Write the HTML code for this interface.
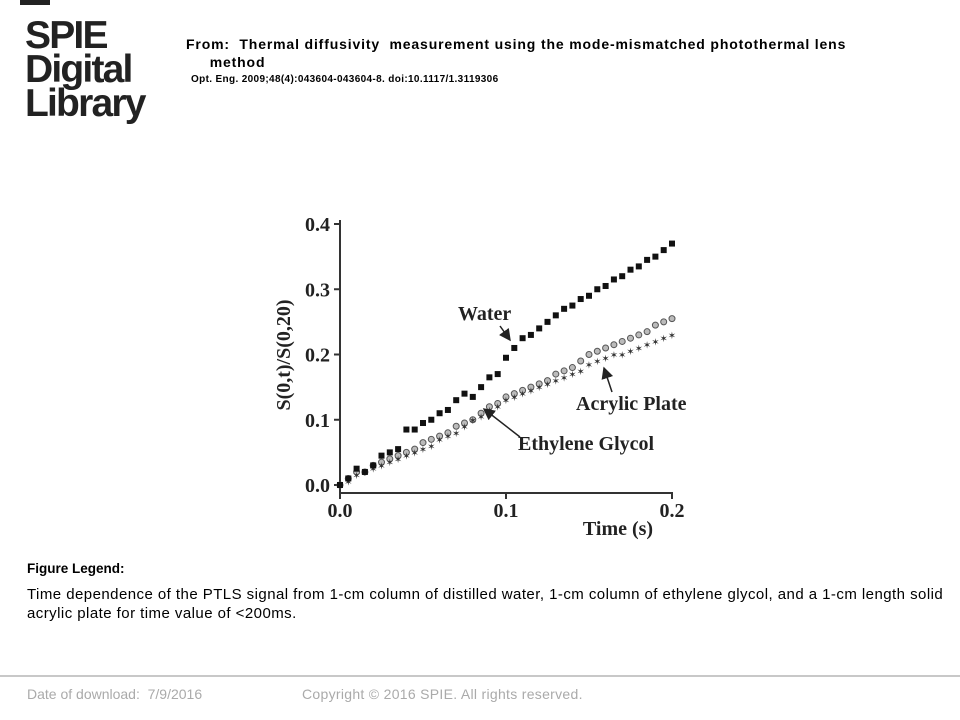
<!DOCTYPE html>
<html><head><meta charset="utf-8"><style>
body{margin:0;width:960px;height:720px;background:#fff;position:relative;overflow:hidden;font-family:"Liberation Sans",Arial,sans-serif}
.a{position:absolute;white-space:nowrap}
</style></head><body>
<div class="a" style="left:20px;top:0;width:30px;height:5px;background:#222"></div>
<div class="a" style="left:25px;top:19px;font-weight:bold;font-size:39px;line-height:34px;letter-spacing:-1.8px;color:#222">SPIE<br>Digital<br>Library</div>
<div class="a" style="left:186px;top:35px;font-weight:bold;font-size:14px;letter-spacing:0.85px;line-height:18px">From:&nbsp; Thermal diffusivity&nbsp; measurement using the mode-mismatched photothermal lens<br>&nbsp;&nbsp;&nbsp;&nbsp; method</div>
<div class="a" style="left:191px;top:74px;font-weight:bold;font-size:10px;letter-spacing:0.35px">Opt. Eng. 2009;48(4):043604-043604-8. doi:10.1117/1.3119306</div>

<svg class="a" style="left:0;top:0" width="960" height="560" id="chart"></svg>

<div class="a" style="left:27px;top:561px;font-weight:bold;font-size:13.5px">Figure Legend:</div>
<div class="a" style="left:27px;top:585px;font-size:15px;letter-spacing:0.45px;line-height:19px">Time dependence of the PTLS signal from 1-cm column of distilled water, 1-cm column of ethylene glycol, and a 1-cm length solid<br>acrylic plate for time value of &lt;200ms.</div>
<div class="a" style="left:0;top:675px;width:960px;height:2px;background:#c8c8c8"></div>
<div class="a" style="left:27px;top:686px;font-size:14px;color:#aaa">Date of download:&nbsp; 7/9/2016</div>
<div class="a" style="left:302px;top:686px;font-size:14px;letter-spacing:0.3px;color:#aaa">Copyright © 2016 SPIE. All rights reserved.</div>

<script>
const times=[0,0.005,0.01,0.015,0.02,0.025,0.03,0.035,0.04,0.045,0.05,0.055,0.06,0.065,0.07,0.075,0.08,0.085,0.09,0.095,0.1,0.105,0.11,0.115,0.12,0.125,0.13,0.135,0.14,0.145,0.15,0.155,0.16,0.165,0.17,0.175,0.18,0.185,0.19,0.195,0.2];
const water=[0,0.01,0.025,0.02,0.03,0.045,0.05,0.055,0.085,0.085,0.095,0.1,0.11,0.115,0.13,0.14,0.135,0.15,0.165,0.17,0.195,0.21,0.225,0.23,0.24,0.25,0.26,0.27,0.275,0.285,0.29,0.3,0.305,0.315,0.32,0.33,0.335,0.345,0.35,0.36,0.37];
const acrylic=[0,0.01,0.02,0.02,0.03,0.035,0.04,0.045,0.05,0.055,0.065,0.07,0.075,0.08,0.09,0.095,0.1,0.11,0.12,0.125,0.135,0.14,0.145,0.15,0.155,0.16,0.17,0.175,0.18,0.19,0.2,0.205,0.21,0.215,0.22,0.225,0.23,0.235,0.245,0.25,0.255];
const glycol=[0,0.005,0.015,0.02,0.025,0.03,0.035,0.04,0.045,0.05,0.055,0.06,0.07,0.075,0.08,0.09,0.1,0.105,0.115,0.12,0.13,0.135,0.14,0.145,0.15,0.155,0.16,0.165,0.17,0.175,0.185,0.19,0.195,0.2,0.2,0.205,0.21,0.215,0.22,0.225,0.23];
const xTicks=[0,0.1,0.2];
const xTickLabels=["0.0","0.1","0.2"];
const yTicks=[0,0.1,0.2,0.3,0.4];
const yTickLabels=["0.0","0.1","0.2","0.3","0.4"];

const X=v=>340+v*(332/0.2);
const Y=v=>485-v*(261/0.4);
const svg=document.getElementById('chart');
const NS='http://www.w3.org/2000/svg';
function mk(tag,attrs,txt){const e=document.createElementNS(NS,tag);for(const k in attrs)e.setAttribute(k,attrs[k]);if(txt!==undefined)e.textContent=txt;svg.appendChild(e);return e;}
const F='"Liberation Serif",serif';

let e=mk('line',{x1:340,y1:220,x2:340,y2:493,stroke:'#333','stroke-width':2});


e=mk('line',{x1:339,y1:493,x2:673,y2:493,stroke:'#333','stroke-width':2});



yTicks.forEach((t,i)=>{
  let l=mk('line',{x1:334,y1:Y(t),x2:340,y2:Y(t),stroke:'#333','stroke-width':2});
  
  
  let s=mk('text',{x:330,y:Y(t)+7,'text-anchor':'end','font-family':F,'font-weight':'bold','font-size':20,fill:'#222'},yTickLabels[i]);
  
  
});
xTicks.forEach((t,i)=>{
  let l=mk('line',{x1:X(t),y1:493,x2:X(t),y2:499,stroke:'#333','stroke-width':2});
  
  
  let s=mk('text',{x:X(t),y:517,'text-anchor':'middle','font-family':F,'font-weight':'bold','font-size':20,fill:'#222'},xTickLabels[i]);
  
  
});
e=mk('text',{x:618,y:535,'text-anchor':'middle','font-family':F,'font-weight':'bold','font-size':20,fill:'#222'},'Time (s)');


e=mk('text',{x:0,y:0,transform:'translate(290,355) rotate(-90)','text-anchor':'middle','font-family':F,'font-weight':'bold','font-size':20,fill:'#222'},'S(0,t)/S(0,20)');



times.forEach((t,i)=>{
  let c=mk('circle',{cx:X(t),cy:Y(acrylic[i]),r:3,fill:'#bbb',stroke:'#555','stroke-width':1});
  
  
});
times.forEach((t,i)=>{
  let c=mk('text',{x:X(t),y:Y(glycol[i])+4,'text-anchor':'middle','font-size':10,fill:'#333'},'✶');
  
  
});
times.forEach((t,i)=>{
  let c=mk('rect',{x:X(t)-3,y:Y(water[i])-3,width:6,height:6,fill:'#111'});
  
  
});

mk('defs',{}).innerHTML='<marker id="ah" markerWidth="8" markerHeight="8" refX="7" refY="4" orient="auto"><path d="M0,0 L8,4 L0,8 z" fill="#222"/></marker>';
function ann(name,label,tx,ty,x1,y1,x2,y2){
  let t=mk('text',{x:tx,y:ty,'font-family':F,'font-weight':'bold','font-size':20,fill:'#222'},label);
  
  
  let l=mk('line',{x1:x1,y1:y1,x2:x2,y2:y2,stroke:'#222','stroke-width':1.5,'marker-end':'url(#ah)'});
  
  
}
ann('water','Water',458,320,500,326,510,340);
ann('acrylic','Acrylic Plate',576,410,612,392,604,368);
ann('glycol','Ethylene Glycol',518,450,520,437,484,409);
</script>
</body></html>
